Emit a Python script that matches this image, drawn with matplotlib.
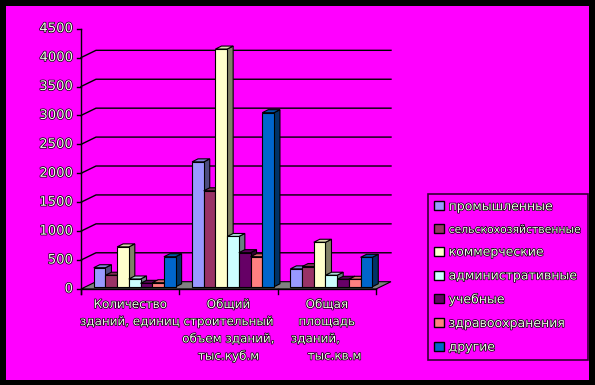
import matplotlib
matplotlib.use("Agg")
import matplotlib.pyplot as plt
import matplotlib.patheffects as pe
from matplotlib.patches import Polygon, Rectangle, Patch

# данные
categories = ["Количество\nзданий, единиц",
              "Общий\nстроительный\nобъем зданий,\nтыс.куб.м",
              "Общая\nплощадь\nзданий,      \n    тыс.кв.м"]
series = ["промышленные", "сельскохозяйственные", "коммерческие",
          "административные", "учебные", "здравоохранения", "другие"]
colors = ["#9999FF", "#993366", "#FFFFCC", "#CCFFFF", "#660066", "#FF8080", "#0066CC"]
values = {
    "промышленные":         [330, 2160, 310],
    "сельскохозяйственные": [200, 1660, 350],
    "коммерческие":         [690, 4110, 770],
    "административные":     [135, 870, 200],
    "учебные":              [60, 590, 130],
    "здравоохранения":      [70, 520, 130],
    "другие":               [520, 3010, 510],
}
yticks = [0, 500, 1000, 1500, 2000, 2500, 3000, 3500, 4000, 4500]

W, H = 595, 385
fig = plt.figure(figsize=(W / 100, H / 100), dpi=100)
fig.patch.set_facecolor("black")
fig.add_artist(Rectangle((6 / W, 5 / H), 583 / W, 374 / H, transform=fig.transFigure,
                         facecolor="#FF00FF", edgecolor="none", zorder=-5))

ax = fig.add_axes([81 / W, (H - 289) / H, 295 / W, 260.3 / H])
ax.set_xlim(0, 3)
ax.set_ylim(0, 4500)
ax.axis("off")
ax.patch.set_alpha(0)

# пиксели -> единицы данных
kx = 3 / 295
ky = 4500 / 260.3
DX, DY = 15 * kx, 7.3 * ky          # глубина стенок
FX, FY = 4.5 * kx, 2.2 * ky         # передняя плоскость столбцов
BX, BY = 6 * kx, 3 * ky             # глубина столбца
bw = 11.7 * kx
gap = (1 - 7 * bw) / 2

txt_fx = [pe.withStroke(linewidth=1.0, foreground="black")]
txt_col = "#F4F8EC"

def shade(c, f):
    r, g, b = matplotlib.colors.to_rgb(c)
    return (r * f, g * f, b * f)

# пол
ax.add_patch(Polygon([(0, 0), (3, 0), (3 + DX, DY), (DX, DY)], closed=True,
                     facecolor="#808080", edgecolor="black", lw=0.8, clip_on=False, zorder=1))

# сетка
for v in yticks:
    ax.plot([-4 * kx, 0], [v, v], color="black", lw=1, clip_on=False, zorder=2)
    ax.text(-8 * kx, v, str(v), ha="right", va="center", fontsize=9.5, color=txt_col,
            path_effects=txt_fx, clip_on=False)
    if 0 < v < 4500:
        ax.plot([0, DX, 3 + DX], [v, v + DY, v + DY], color="black", lw=1,
                clip_on=False, zorder=1)
ax.plot([0, 0], [-5 * ky, 4500], color="black", lw=1, clip_on=False, zorder=2)
ax.plot([0, 3], [0, 0], color="black", lw=1, clip_on=False, zorder=2)
for i in range(4):
    ax.plot([i, i], [0, -5 * ky], color="black", lw=1, clip_on=False, zorder=2)

# столбцы
for ci in range(len(categories)):
    for si, s in enumerate(series):
        v = values[s][ci]
        c = colors[si]
        x0 = ci + gap + si * bw + FX
        y0 = FY
        x1 = x0 + bw
        y1 = y0 + v
        front = Polygon([(x0, y0), (x1, y0), (x1, y1), (x0, y1)], closed=True)
        side = Polygon([(x1, y0), (x1 + BX, y0 + BY), (x1 + BX, y1 + BY), (x1, y1)], closed=True)
        top = Polygon([(x0, y1), (x1, y1), (x1 + BX, y1 + BY), (x0 + BX, y1 + BY)], closed=True)
        for p, fc in ((side, shade(c, 0.5)), (top, shade(c, 0.85)), (front, c)):
            p.set_facecolor(fc)
            p.set_edgecolor("black")
            p.set_linewidth(0.8)
            p.set_clip_on(False)
            p.set_zorder(3)
            ax.add_patch(p)

# подписи категорий
for ci, lab in enumerate(categories):
    ax.text(ci + 0.5, -9 * ky, lab, ha="center", va="top", multialignment="center",
            fontsize=8.6, linespacing=1.42, color=txt_col, path_effects=txt_fx, clip_on=False)

# легенда
handles = [Patch(facecolor=c, edgecolor="black", lw=1) for c in colors]
leg = fig.legend(handles, series, loc="upper left",
                 bbox_to_anchor=(428 / W, (H - 194) / H), bbox_transform=fig.transFigure,
                 fontsize=9, handlelength=0.75, handleheight=0.75, handletextpad=0.4,
                 labelspacing=0.86, borderpad=0.5, borderaxespad=0, fancybox=False,
                 frameon=True)
leg.get_frame().set_facecolor("none")
leg.get_frame().set_edgecolor("black")
leg.get_frame().set_linewidth(1.2)
for i, t in enumerate(leg.get_texts()):
    t.set_color(txt_col)
    t.set_path_effects(txt_fx)
    if i == 1:
        t.set_fontsize(7.8)

fig.savefig("out.png", dpi=100, facecolor=fig.get_facecolor())
